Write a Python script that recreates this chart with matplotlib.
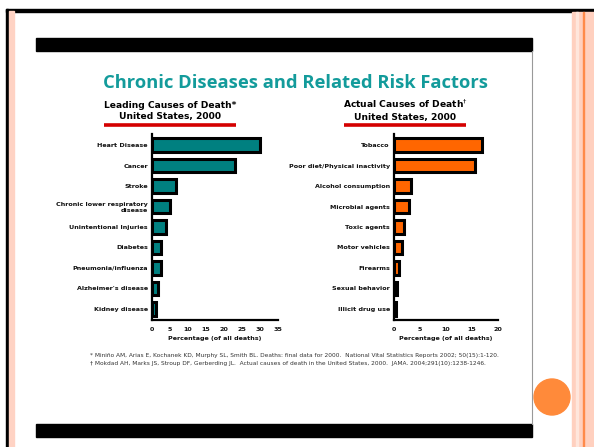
import numpy as np
import matplotlib.pyplot as plt
from matplotlib.patches import Rectangle, Circle

# left panel: leading causes of death, US 2000 (% of all deaths)
leading_causes = ['Heart Disease', 'Cancer', 'Stroke', 'Chronic lower respiratory\ndisease',
                  'Unintentional Injuries', 'Diabetes', 'Pneumonia/influenza',
                  "Alzheimer's disease", 'Kidney disease']
leading_pct = [29.9, 23.0, 6.8, 5.0, 3.8, 2.6, 2.4, 1.7, 1.2]

# right panel: actual causes of death, US 2000 (% of all deaths)
actual_causes = ['Tobacco', 'Poor diet/Physical inactivity', 'Alcohol consumption',
                 'Microbial agents', 'Toxic agents', 'Motor vehicles', 'Firearms',
                 'Sexual behavior', 'Illicit drug use']
actual_pct = [16.9, 15.5, 3.3, 2.9, 2.0, 1.5, 1.0, 0.5, 0.4]

left_ticks = [0, 5, 10, 15, 20, 25, 30, 35]
right_ticks = [0, 5, 10, 15, 20]

footnotes = [
    '* Miniño AM, Arias E, Kochanek KD, Murphy SL, Smith BL. Deaths: final data for 2000.  '
    'National Vital Statistics Reports 2002; 50(15):1-120.',
    '\u2020 Mokdad AH, Marks JS, Stroup DF, Gerberding JL.  Actual causes of death in the '
    'United States, 2000.  JAMA. 2004;291(10):1238-1246.',
]

plt.rcParams['font.family'] = 'DejaVu Sans'

W, H = 594, 447
fig = plt.figure(figsize=(W / 100, H / 100), dpi=100)
fig.patch.set_facecolor('white')

# slide decorations, drawn in pixel coordinates
bg = fig.add_axes([0, 0, 1, 1], zorder=-1)
bg.set_xlim(0, W)
bg.set_ylim(H, 0)
bg.axis('off')
bg.add_patch(Rectangle((6, 9), W - 6, 2.5, color='black'))
bg.add_patch(Rectangle((6, 9), 2, H - 9, color='black'))
bg.add_patch(Rectangle((9, 11), 5, H - 11, color='#ffd3c4'))
bg.add_patch(Rectangle((572, 11.5), W - 572, H, color='#ffd0bf'))
bg.add_patch(Rectangle((576, 11.5), 2, H, color='#ffe6dc'))
bg.add_patch(Rectangle((582.5, 11.5), 1.2, H, color='#ff8a4a'))
bg.add_patch(Rectangle((36, 38), 496, 13, color='black'))
bg.add_patch(Rectangle((36, 424), 496, 13, color='black'))
bg.plot([532, 532], [51, 424], color='#999999', lw=0.8)
bg.add_patch(Circle((552, 397), 18, color='#ff8a3a'))

bg.text(295.5, 87.5, 'Chronic Diseases and Related Risk Factors', ha='center', va='baseline',
        fontsize=13.2, fontweight='bold', color='#139b9b', family='Open Sans')

bg.text(170, 107.5, 'Leading Causes of Death*', ha='center', va='baseline',
        fontsize=6.6, fontweight='bold', color='black')
bg.text(170, 119.5, 'United States, 2000', ha='center', va='baseline',
        fontsize=6.6, fontweight='bold', color='black')
bg.plot([104, 236], [124.5, 124.5], color='#d40000', lw=2.6, solid_capstyle='butt')

bg.text(405, 108, r'Actual Causes of Death$^{\dagger}$', ha='center', va='baseline',
        fontsize=6.6, fontweight='bold', color='black')
bg.text(405, 120, 'United States, 2000', ha='center', va='baseline',
        fontsize=6.6, fontweight='bold', color='black')
bg.plot([344, 466], [124.5, 124.5], color='#d40000', lw=2.6, solid_capstyle='butt')

bg.text(90, 355, footnotes[0], ha='left', va='center', fontsize=4.22, color='#333333')
bg.text(90, 363.5, footnotes[1], ha='left', va='center', fontsize=4.22, color='#333333')


def draw_panel(rect, labels, values, ticks, color):
    ax = fig.add_axes(rect)
    y = np.arange(len(labels))
    ax.barh(y, values, height=0.65, color=color, edgecolor='black', linewidth=2.2, zorder=3)
    ax.set_ylim(len(labels) - 0.46, -0.54)
    ax.set_xlim(ticks[0], ticks[-1])
    ax.set_yticks(y)
    ax.set_yticklabels(labels, fontsize=4.6, fontweight='bold', ha='right',
                       multialignment='right', color='#111111')
    ax.set_xticks(ticks)
    ax.set_xticklabels([str(t) for t in ticks], fontsize=4.6, fontweight='bold', color='#111111')
    ax.tick_params(axis='y', length=0, pad=3)
    ax.tick_params(axis='x', length=0, pad=5)
    ax.spines['top'].set_visible(False)
    ax.spines['right'].set_visible(False)
    ax.spines['left'].set_linewidth(1.6)
    ax.spines['bottom'].set_linewidth(1.6)
    ax.set_facecolor('none')
    ax.set_xlabel('Percentage (of all deaths)', fontsize=4.6, fontweight='bold',
                  color='#111111', labelpad=3)
    return ax


draw_panel([152 / W, 1 - 320 / H, 126 / W, 186 / H], leading_causes, leading_pct,
           left_ticks, '#008080')
draw_panel([394 / W, 1 - 320 / H, 104 / W, 186 / H], actual_causes, actual_pct,
           right_ticks, '#ff6600')

fig.savefig('out.png', dpi=100)
